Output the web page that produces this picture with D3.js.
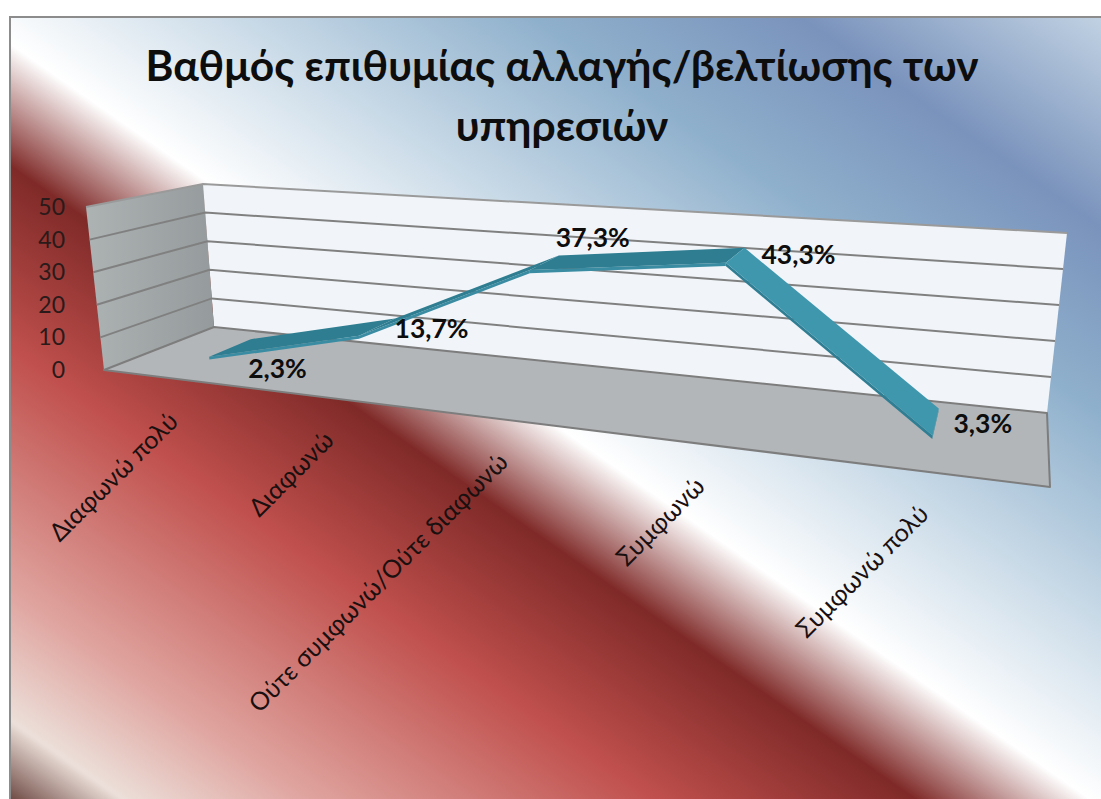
<!DOCTYPE html>
<html>
  <head>
    <meta charset="utf-8">
    <title>Βαθμός επιθυμίας</title>
    <style>
      html, body { margin: 0; padding: 0; background: #fff; overflow: hidden; }
      text { font-family: "Lato", "Open Sans", "Noto Sans", sans-serif; }
    </style>
  </head>
  <body>
    <script src="https://d3js.org/d3.v7.min.js"></script>
    <script type="text/javascript">

      // chart data
      var titleLines = ["Βαθμός επιθυμίας αλλαγής/βελτίωσης των", "υπηρεσιών"];
      var categories = ["Διαφωνώ πολύ", "Διαφωνώ", "Ούτε συμφωνώ/Ούτε διαφωνώ", "Συμφωνώ", "Συμφωνώ πολύ"];
      var values = [2.3, 13.7, 37.3, 43.3, 3.3];
      var yTicks = [0, 10, 20, 30, 40, 50];

      var w = 1101;
      var h = 799;

      var svg = d3.select("body")
        .append("svg")
        .attr("width", w)
        .attr("height", h);

      // background gradient runs along one diagonal, p is distance along it
      var gradDir = [-0.573, 0.819];
      var gradLen = 660;
      var gradStops = [
        [-660, "#d2e1ec"], [-445, "#7a93bc"], [-291, "#8fb0cc"], [-131, "#c6d8e6"],
        [30, "#ffffff"], [130, "#7f2a28"], [280, "#c0504d"], [480, "#e0a5a0"],
        [585, "#ecdfd9"], [660, "#5a322c"]
      ];

      var grad = svg.append("defs").append("linearGradient")
        .attr("id", "bg")
        .attr("gradientUnits", "userSpaceOnUse")
        .attr("x1", -gradLen * gradDir[0]).attr("y1", -gradLen * gradDir[1])
        .attr("x2", gradLen * gradDir[0]).attr("y2", gradLen * gradDir[1]);

      grad.selectAll("stop")
        .data(gradStops)
        .enter()
        .append("stop")
        .attr("offset", function(d) { return (d[0] + gradLen) / (2 * gradLen); })
        .attr("stop-color", function(d) { return d[1]; });

      svg.append("rect")
        .attr("x", 10).attr("y", 17)
        .attr("width", w).attr("height", h)
        .attr("fill", "url(#bg)")
        .attr("stroke", "#8c8c8c")
        .attr("stroke-width", 2);

      // corners of the floor and of the plane at the top of the value axis,
      // in order front-left, front-right, back-right, back-left
      var floorQuad = [[104, 370], [1050, 487], [1047, 413], [214, 327]];
      var topQuad = [[86, 207], [1074, 273.5], [1067, 233], [203, 184]];

      // homography from the unit square onto a quad
      function quadMap(q) {
        var dx1 = q[1][0] - q[2][0], dx2 = q[3][0] - q[2][0], sx = q[0][0] - q[1][0] + q[2][0] - q[3][0];
        var dy1 = q[1][1] - q[2][1], dy2 = q[3][1] - q[2][1], sy = q[0][1] - q[1][1] + q[2][1] - q[3][1];
        var den = dx1 * dy2 - dx2 * dy1;
        var g = (sx * dy2 - dx2 * sy) / den;
        var k = (dx1 * sy - sx * dy1) / den;
        var a = q[1][0] - q[0][0] + g * q[1][0];
        var b = q[3][0] - q[0][0] + k * q[3][0];
        var d = q[1][1] - q[0][1] + g * q[1][1];
        var e = q[3][1] - q[0][1] + k * q[3][1];
        return function(u, v) {
          var m = g * u + k * v + 1;
          return [(a * u + b * v + q[0][0]) / m, (d * u + e * v + q[0][1]) / m];
        };
      }

      var floorMap = quadMap(floorQuad);
      var topMap = quadMap(topQuad);

      // u across the categories, y up the value axis, depth 0 = front, 1 = back
      var xScale = d3.scaleBand().domain(categories).range([0, 1]);
      var yScale = d3.scaleLinear().domain([0, 50]).range([0, 1]);

      function project(u, value, depth) {
        var t = yScale(value);
        var lo = floorMap(u, depth);
        var hi = topMap(u, depth);
        return [lo[0] + (hi[0] - lo[0]) * t, lo[1] + (hi[1] - lo[1]) * t];
      }

      function catU(i) {
        return xScale(categories[i]) + xScale.bandwidth() / 2;
      }

      var polyLine = d3.line();

      function poly(points, fill, stroke) {
        return svg.append("path")
          .attr("d", polyLine(points) + "Z")
          .attr("fill", fill)
          .attr("stroke", stroke || "none")
          .attr("stroke-width", 1)
          .attr("stroke-linejoin", "round");
      }

      // side wall gradient goes a bit darker towards the back corner
      var wallGrad = svg.select("defs").append("linearGradient")
        .attr("id", "sideWall")
        .attr("x1", 0).attr("y1", 0).attr("x2", 1).attr("y2", 0);
      wallGrad.append("stop").attr("offset", 0).attr("stop-color", "#adb2b3");
      wallGrad.append("stop").attr("offset", 1).attr("stop-color", "#959b9c");

      // back wall, side wall
      poly([project(0, 0, 1), project(1, 0, 1), project(1, 50, 1), project(0, 50, 1)], "#f1f5f9");
      poly([project(0, 0, 0), project(0, 0, 1), project(0, 50, 1), project(0, 50, 0)], "url(#sideWall)");

      // gridlines on both walls
      yTicks.forEach(function(t) {
        var grid = [project(0, t, 0), project(0, t, 1), project(1, t, 1)];
        svg.append("path")
          .attr("d", polyLine(grid))
          .attr("fill", "none")
          .attr("stroke", t == 50 ? "#9a9a9a" : "#808080")
          .attr("stroke-width", t == 0 ? 0 : 2);
      });

      // floor
      poly([project(0, 0, 0), project(1, 0, 0), project(1, 0, 1), project(0, 0, 1)], "#b3b6b9", "#7d7d7d")
        .attr("stroke-width", 2);

      // the 3d line as a ribbon, one segment at a time
      var depthFront = 0.3;
      var depthBack = 0.7;
      var thickness = 0.9;

      values.slice(0, -1).forEach(function(v, i) {
        var next = values[i + 1];
        var u0 = catU(i), u1 = catU(i + 1);
        var rising = next > v;
        poly([project(u0, v, depthFront), project(u1, next, depthFront),
              project(u1, next - thickness, depthFront), project(u0, v - thickness, depthFront)],
             rising ? "#3a8ca2" : "#2f7e93");
        poly([project(u0, v, depthFront), project(u1, next, depthFront),
              project(u1, next, depthBack), project(u0, v, depthBack)],
             rising ? "#2e7d91" : "#3f97ae");
      });

      // end cap of the ribbon
      var last = values.length - 1;
      poly([project(catU(last), values[last], depthFront), project(catU(last), values[last], depthBack),
            project(catU(last), values[last] - thickness, depthBack), project(catU(last), values[last] - thickness, depthFront)],
           "#348aa0");

      // title
      svg.selectAll(".title")
        .data(titleLines)
        .enter()
        .append("text")
        .attr("class", "title")
        .attr("x", 562)
        .attr("y", function(d, i) { return 81 + i * 60; })
        .attr("text-anchor", "middle")
        .attr("font-size", 42.5)
        .attr("font-weight", 700)
        .attr("fill", "#0d0d0d")
        .text(function(d) { return d; });

      // value axis labels
      svg.selectAll(".ytick")
        .data(yTicks)
        .enter()
        .append("text")
        .attr("class", "ytick")
        .attr("x", 65)
        .attr("y", function(d) { return project(0, d, 0)[1] + 8; })
        .attr("text-anchor", "end")
        .attr("font-size", 23)
        .attr("fill", "#2a1a1a")
        .text(function(d) { return d; });

      // category labels, rotated, ending just below the front edge
      svg.selectAll(".xtick")
        .data(categories)
        .enter()
        .append("text")
        .attr("class", "xtick")
        .attr("transform", function(d, i) {
          var p = project(catU(i), 0, 0);
          return "translate(" + (p[0] + 4) + "," + (p[1] + 44) + ") rotate(-45)";
        })
        .attr("text-anchor", "end")
        .attr("font-size", 25)
        .attr("fill", "#1a1010")
        .text(function(d) { return d; });

      // data labels, offset from the middle of the ribbon
      var labelOffsets = [[47, 21], [54, 2], [48, -25], [63, 0], [47, 2]];

      svg.selectAll(".dlabel")
        .data(values)
        .enter()
        .append("text")
        .attr("class", "dlabel")
        .attr("transform", function(d, i) {
          var p = project(catU(i), d, 0.5);
          return "translate(" + (p[0] + labelOffsets[i][0]) + "," + (p[1] + labelOffsets[i][1] + 9) + ")";
        })
        .attr("text-anchor", "middle")
        .attr("font-size", 26.5)
        .attr("font-weight", 700)
        .attr("fill", "#0d0d0d")
        .text(function(d) { return String(d).replace(".", ",") + "%"; });

    </script>
  </body>
</html>
